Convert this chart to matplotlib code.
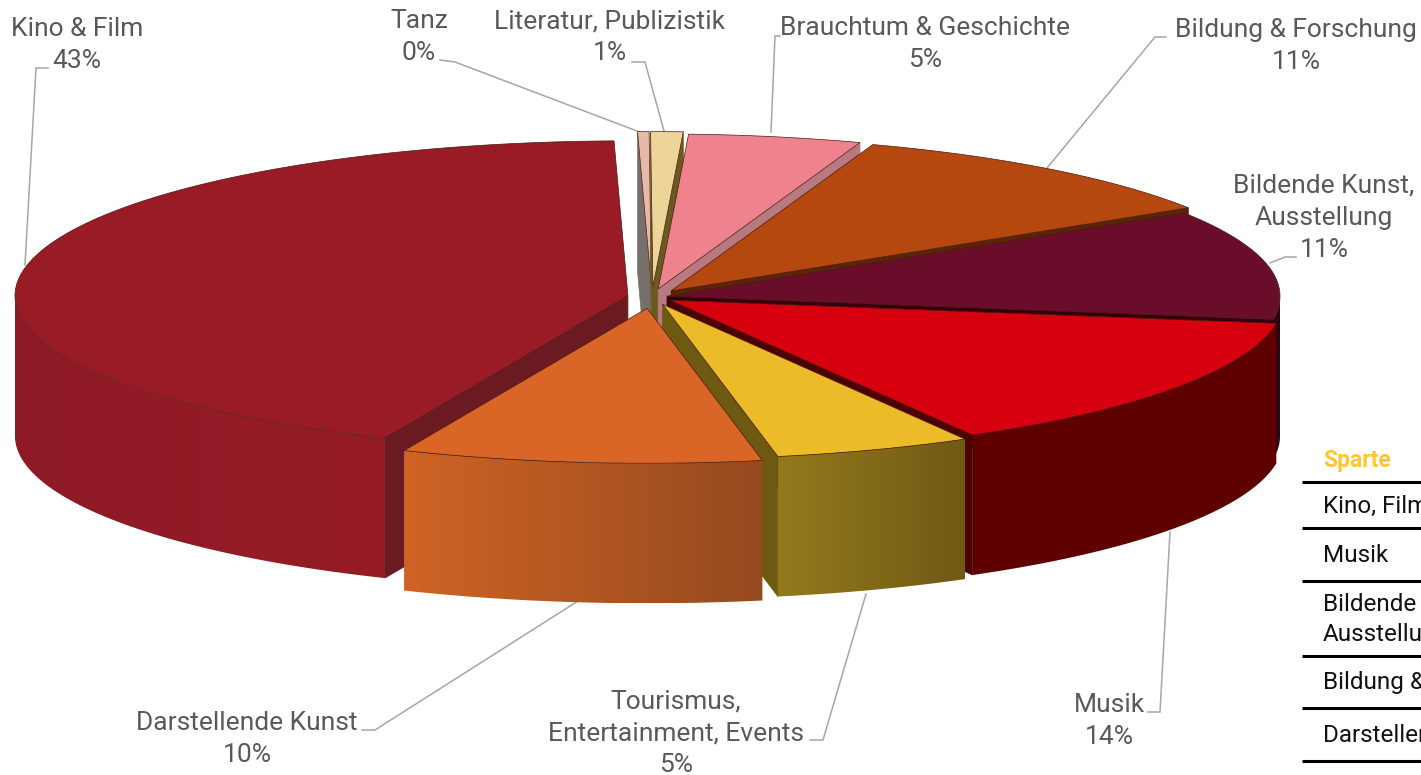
import numpy as np
import matplotlib
matplotlib.use('Agg')
import matplotlib.pyplot as plt
from matplotlib.colors import to_rgb
from matplotlib.patches import Polygon

# pie data, clockwise from the top
categories = ['Tanz', 'Literatur, Publizistik', 'Brauchtum & Geschichte', 'Bildung & Forschung',
              'Bildende Kunst,\nAusstellung', 'Musik', 'Tourismus,\nEntertainment, Events',
              'Darstellende Kunst', 'Kino & Film']
values = [0.3, 0.85, 4.55, 10.65, 11.4, 14.4, 5.2, 9.5, 43.15]
explode = [0.067, 0.067, 0.053, 0.05, 0.025, 0.036, 0.05, 0.073, 0.04]

top_colors = ['#e8b9a6', '#edd59a', '#ee838d', '#b5480e', '#6a0d2a', '#d6000f', '#ecbb2a', '#d96527', '#981b25']
cut_colors = ['#77706a', '#6b5a20', '#b87a80', '#5a2405', '#35000a', '#4e0000', '#6d5a10', '#8a4418', '#6b1a22']
wall_left = ['#777777', '#777777', '#777777', '#777777', '#2e0513', '#5e0000', '#94791c', '#cf6325', '#8e1a25']
wall_right = ['#777777', '#777777', '#777777', '#777777', '#2e0513', '#5e0000', '#6f5a14', '#954a1f', '#951c27']

table_header = 'Sparte'
table_rows = ['Kino, Film', 'Musik', 'Bildende Kunst,\nAusstellung', 'Bildung & Forschung', 'Darstellende Kunst']

plt.rcParams['font.family'] = ['Roboto', 'DejaVu Sans']

fig = plt.figure(figsize=(14.21, 7.75), dpi=100)
ax = fig.add_axes([0, 0, 1, 1])
ax.set_xlim(0, 1421)
ax.set_ylim(775, 0)
ax.axis('off')

# pie geometry in pixels
cx, cy = 652, 297
rx, ry = 613, 155
depth = 140
start = -1.3


def rim(apex, angle):
    a = np.radians(angle)
    return apex[0] + rx * np.sin(a), apex[1] - ry * np.cos(a)


def draw_slice(i, a0, a1):
    mid = np.radians((a0 + a1) / 2)
    apex = (cx + explode[i] * rx * np.sin(mid), cy - explode[i] * ry * np.cos(mid))

    # outer wall, only the part that faces the viewer, as a clipped left-right gradient
    w0, w1 = max(a0, 90), min(a1, 270)
    if w1 > w0:
        steps = np.linspace(w0, w1, 60)
        arc = [rim(apex, s) for s in steps]
        outline = arc + [(x, y + depth) for x, y in arc[::-1]]
        poly = Polygon(outline, facecolor='none', edgecolor='none', zorder=z)
        ax.add_patch(poly)
        xs = [p[0] for p in outline]
        ys = [p[1] for p in outline]
        c_l, c_r = np.array(to_rgb(wall_left[i])), np.array(to_rgb(wall_right[i]))
        grad = np.linspace(c_l, c_r, 128)[np.newaxis, :, :]
        im = ax.imshow(grad, extent=(min(xs), max(xs), max(ys), min(ys)), aspect='auto',
                       interpolation='bilinear', zorder=z)
        im.set_clip_path(poly)

    # cut faces
    for ang, visible in ((a0, np.sin(np.radians(a0)) < 0), (a1, np.sin(np.radians(a1)) > 0)):
        if visible:
            x, y = rim(apex, ang)
            ax.add_patch(Polygon([apex, (x, y), (x, y + depth), (apex[0], apex[1] + depth)],
                                 facecolor=cut_colors[i], edgecolor=cut_colors[i], lw=0.5, zorder=z + 0.1))

    # top of the slice
    angles = np.linspace(a0, a1, 80)
    pts = [apex] + [rim(apex, a) for a in angles]
    ax.add_patch(Polygon(pts, facecolor=top_colors[i], edgecolor='#4a1a14', lw=0.5, zorder=z + 0.2))


cum = start + np.cumsum([0] + values) * 360 / sum(values)
mids = (cum[:-1] + cum[1:]) / 2
# back slices first
order = np.argsort(-np.cos(np.radians(mids)))
for z, i in enumerate(order):
    z = 2 + z
    draw_slice(i, cum[i], cum[i + 1])
ax.set_xlim(0, 1421)
ax.set_ylim(775, 0)

# labels with leader lines
label_pos = [(419, 21), (610, 21), (925, 28), (1296, 30), (1324, 186), (1109, 705), (676, 701), (247, 723), (77, 29)]
leaders = [
    [(440, 60), (455, 62), (637, 131)],
    [(632, 62), (645, 62), (664, 131)],
    [(780, 36), (775, 36), (771, 132)],
    [(1166, 37), (1155, 37), (1047, 168)],
    [(1296, 257), (1285, 257), (1270, 263)],
    [(1148, 712), (1160, 712), (1170, 532)],
    [(810, 740), (823, 740), (866, 594)],
    [(362, 730), (375, 730), (578, 601)],
    [(48, 68), (36, 68), (25, 265)],
]
for name, val, pos, line in zip(categories, values, label_pos, leaders):
    lines = name.split('\n') + ['%d%%' % round(val)]
    for k, txt in enumerate(lines):
        ax.text(pos[0], pos[1] + k * 32, txt, ha='center', va='center', fontsize=19, color='#595959', zorder=20)
    xs, ys = zip(*line)
    ax.plot(xs, ys, color='#a6a6a6', lw=1.1, zorder=1, solid_joinstyle='miter')

# table at the right, cut off by the picture edge
rules = [482, 528, 581, 656, 708, 761]
ax.text(1323, 460, table_header, fontsize=16.5, fontweight='bold', color='#fdc82f', va='center', clip_on=True)
for y in rules:
    ax.plot([1302, 1421], [y, y], color='black', lw=2.2, solid_capstyle='butt', zorder=10)
for y0, y1, txt in zip(rules[:-1], rules[1:], table_rows):
    lines = txt.split('\n')
    mid_y = (y0 + y1) / 2 + 1 - (len(lines) - 1) * 15
    for k, t in enumerate(lines):
        ax.text(1323, mid_y + k * 30, t, fontsize=17.5, color='#111111', va='center', clip_on=True)

fig.savefig('out.png', dpi=100)
